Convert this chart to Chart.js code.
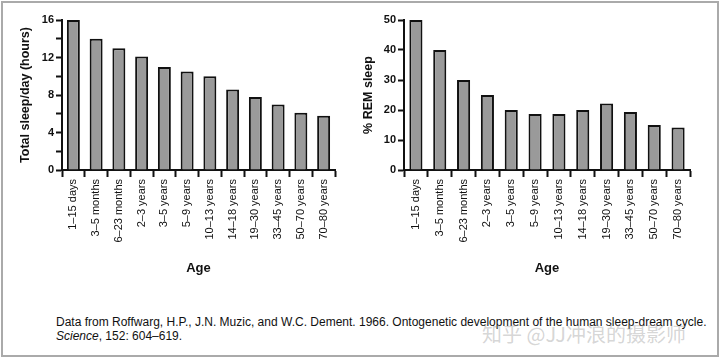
<!DOCTYPE html>
<html>
<head>
<meta charset="utf-8">
<script src="https://cdn.jsdelivr.net/npm/chart.js@4"></script>
<style>
  body { margin: 0; background: #fff; width: 720px; height: 358px; overflow: hidden; position: relative;
         font-family: "Liberation Sans", Arial, sans-serif; }
  .frame { position: absolute; left: 1px; top: 1px; width: 718px; height: 356px; box-sizing: border-box; border: 2px solid #aaa; }
  #sleepChart { position: absolute; left: 0; top: 0; }
  #remChart { position: absolute; left: 360px; top: 0; }
  .source { position: absolute; left: 56px; top: 315px; font-size: 12px; line-height: 14px; color: #111; white-space: nowrap; }
  .watermark { position: absolute; left: 482px; top: 319px; font-size: 20px; color: rgba(150, 150, 150, 0.4);
               font-family: "Noto Sans CJK SC", sans-serif; white-space: nowrap; }
</style>
</head>
<body>
<div class="frame"></div>
<canvas id="sleepChart" width="360" height="290"></canvas>
<canvas id="remChart" width="360" height="290"></canvas>
<div class="source">Data from Roffwarg, H.P., J.N. Muzic, and W.C. Dement. 1966. Ontogenetic development of the human sleep-dream cycle.<br><i>Science</i>, 152: 604–619.</div>
<div class="watermark">知乎 @JJ冲浪的摄影师</div>
<script>
const ageGroups = ['1–15 days', '3–5 months', '6–23 months', '2–3 years', '3–5 years', '5–9 years',
  '10–13 years', '14–18 years', '19–30 years', '33–45 years', '50–70 years', '70–80 years'];
const totalSleep = [16, 14, 13, 12.1, 11, 10.5, 10, 8.6, 7.8, 7, 6.1, 5.8];
const remPercent = [50, 40, 30, 25, 20, 18.7, 18.7, 20, 22.2, 19.3, 15, 14.2];

const FONT = '"Liberation Sans", Arial, sans-serif';

function makeChart(id, values, yTitle, yMax, step, labelEvery, axisWidth, titlePad, rightPad, barPct) {
  return new Chart(document.getElementById(id), {
    type: 'bar',
    data: {
      labels: ageGroups,
      datasets: [{
        data: values,
        backgroundColor: '#9a9a9a',
        borderColor: '#111',
        borderWidth: 2,
        borderSkipped: 'bottom',
        categoryPercentage: 1,
        barPercentage: barPct,
      }],
    },
    options: {
      responsive: false,
      animation: false,
      layout: { padding: { top: 20, right: rightPad, left: 0, bottom: 0 } },
      plugins: { legend: { display: false }, tooltip: { enabled: false } },
      scales: {
        x: {
          afterFit: s => { s.height = 120; },
          grid: { drawOnChartArea: false, tickLength: 7, tickColor: '#111', tickWidth: 2 },
          border: { color: '#111', width: 2 },
          ticks: {
            autoSkip: false, maxRotation: 90, minRotation: 90, padding: 2,
            color: '#111', font: { family: FONT, size: 11 },
          },
          title: {
            display: true, text: 'Age', color: '#111',
            font: { family: FONT, size: 13, weight: 'bold' },
            padding: { bottom: 14 },
          },
        },
        y: {
          min: 0,
          max: yMax,
          afterFit: s => { s.width = axisWidth; },
          grid: { drawOnChartArea: false, tickLength: 6, tickColor: '#111', tickWidth: 2 },
          border: { color: '#111', width: 2 },
          ticks: {
            stepSize: step, padding: 2, color: '#111',
            font: { family: FONT, size: 11, weight: 'bold' },
            callback: v => (v % labelEvery === 0 ? v : ''),
          },
          title: {
            display: true, text: yTitle, color: '#111',
            font: { family: FONT, size: 12.5, weight: 'bold' },
            padding: { top: titlePad, bottom: 0 },
          },
        },
      },
    },
  });
}

makeChart('sleepChart', totalSleep, 'Total sleep/day (hours)', 16, 2, 4, 62, 18, 25, 0.57);
makeChart('remChart', remPercent, '% REM sleep', 50, 5, 10, 44, 1, 30, 0.55);
</script>
</body>
</html>
